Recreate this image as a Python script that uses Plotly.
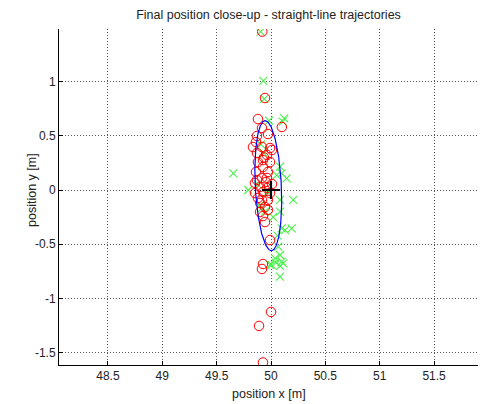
import numpy as np
import plotly.graph_objects as go

# Final positions, method A (red circles)
red_x = [49.92, 49.945, 49.88, 50.10, 49.972, 49.871, 49.834, 49.917, 49.991, 49.871,
         49.963, 49.926, 49.88, 49.991, 49.926, 49.862, 49.972, 49.917, 49.853, 49.954,
         50.009, 49.899, 49.963, 49.853, 49.926, 49.991, 49.917, 49.88, 49.972, 49.945,
         49.972, 49.899, 49.926, 49.945, 49.991, 49.926, 49.917, 50.0, 49.89, 49.926,
         49.917, 49.862, 50.009, 49.871, 49.963, 49.935, 49.90]
red_y = [1.46, 0.848, 0.654, 0.581, 0.516, 0.498, 0.396, 0.396, 0.387, 0.341,
         0.323, 0.276, 0.258, 0.258, 0.212, 0.166, 0.166, 0.111, 0.065, 0.074,
         0.055, 0.028, 0.018, -0.028, -0.018, -0.028, -0.092, -0.074, -0.092, -0.157,
         -0.184, -0.203, -0.240, -0.295, -0.461, -0.682, -0.728, -1.124, -1.253, -1.59,
         0.571, 0.442, 0.369, 0.092, 0.111, 0.30, -0.12]

# Final positions, method B (green crosses)
grn_x = [49.905, 49.929, 49.938, 50.122, 50.108, 49.982, 49.908, 49.653, 50.083, 50.098,
         50.144, 50.052, 49.791, 50.083, 50.205, 49.914, 49.945, 50.083, 50.098, 50.129,
         50.190, 50.067, 50.083, 50.037, 50.098, 49.991, 50.083, 50.006, 50.045, 50.113,
         50.083, 49.935, 49.88, 49.97, 49.90, 50.02, 50.06]
grn_y = [1.459, 1.005, 0.839, 0.661, 0.630, 0.639, 0.421, 0.154, 0.215, 0.154,
         0.108, 0.138, 0.0, -0.092, -0.092, -0.169, -0.2, -0.2, -0.353, -0.369,
         -0.353, -0.522, -0.599, -0.630, -0.661, -0.691, -0.700, -0.691, -0.67, -0.676,
         -0.799, 0.34, 0.05, -0.02, -0.14, -0.25, -0.42]

# Covariance ellipse parameters and target
ell_cx, ell_cy = 49.975, 0.04
ell_a, ell_b = 0.60, 0.12
ell_tilt_deg = 92.8
target_x, target_y = [50.0], [0.0]

t = np.linspace(0, 2 * np.pi, 200)
th = np.deg2rad(ell_tilt_deg)
ex = ell_cx + ell_a * np.cos(t) * np.cos(th) - ell_b * np.sin(t) * np.sin(th)
ey = ell_cy + ell_a * np.cos(t) * np.sin(th) + ell_b * np.sin(t) * np.cos(th)

fig = go.Figure()
fig.add_trace(go.Scatter(x=grn_x, y=grn_y, mode="markers",
                         marker=dict(symbol="x-thin-open", size=8, color="#4cf04c",
                                     line=dict(width=1.1, color="#4cf04c")),
                         showlegend=False, cliponaxis=True))
fig.add_trace(go.Scatter(x=red_x, y=red_y, mode="markers",
                         marker=dict(symbol="circle-open", size=9.5, color="#ff0000",
                                     line=dict(width=1)),
                         showlegend=False, cliponaxis=True))
fig.add_trace(go.Scatter(x=ex, y=ey, mode="lines",
                         line=dict(color="#0000ff", width=1.2), showlegend=False))
fig.add_trace(go.Scatter(x=target_x, y=target_y, mode="markers",
                         marker=dict(symbol="cross-thin-open", size=13, color="#000000",
                                     line=dict(width=2.2, color="#000000")),
                         showlegend=False))

fam = "Liberation Sans, Arial, sans-serif"
tick_font = dict(family=fam, size=12, color="#222222")
lab_font = dict(family=fam, size=12.5, color="#222222")
axis_common = dict(showline=True, linecolor="#000000", linewidth=1, mirror=False,
                   ticks="inside", ticklen=4, tickcolor="#000000",
                   showgrid=True, gridcolor="#555555", griddash="1px,2px", gridwidth=1,
                   zeroline=False, tickfont=tick_font)

fig.update_layout(
    width=480, height=404,
    margin=dict(l=59, r=2, t=29, b=39),
    paper_bgcolor="white", plot_bgcolor="white",
    title=dict(text="Final position close-up - straight-line trajectories",
               x=(59 + 478) / 2 / 480, xanchor="center", y=1 - 15 / 404, yanchor="middle",
               font=lab_font),
    font=tick_font,
    xaxis=dict(range=[48.05, 51.904], tickvals=[48.5, 49, 49.5, 50, 50.5, 51, 51.5],
               ticktext=["48.5", "49", "49.5", "50", "50.5", "51", "51.5"], **axis_common),
    yaxis=dict(range=[-1.613, 1.484], tickvals=[-1.5, -1, -0.5, 0, 0.5, 1],
               ticktext=["-1.5", "-1", "-0.5", "0", "0.5", "1"], **axis_common),
    annotations=[
        dict(text="position x [m]", xref="paper", yref="paper", x=0.5, y=-29 / 336,
             xanchor="center", yanchor="middle", showarrow=False, font=lab_font),
        dict(text="position y [m]", xref="paper", yref="paper", x=-27 / 419, y=(365 - 190) / 336,
             xanchor="center", yanchor="middle", textangle=-90, showarrow=False, font=lab_font),
    ],
)

fig.write_html("out.html")
